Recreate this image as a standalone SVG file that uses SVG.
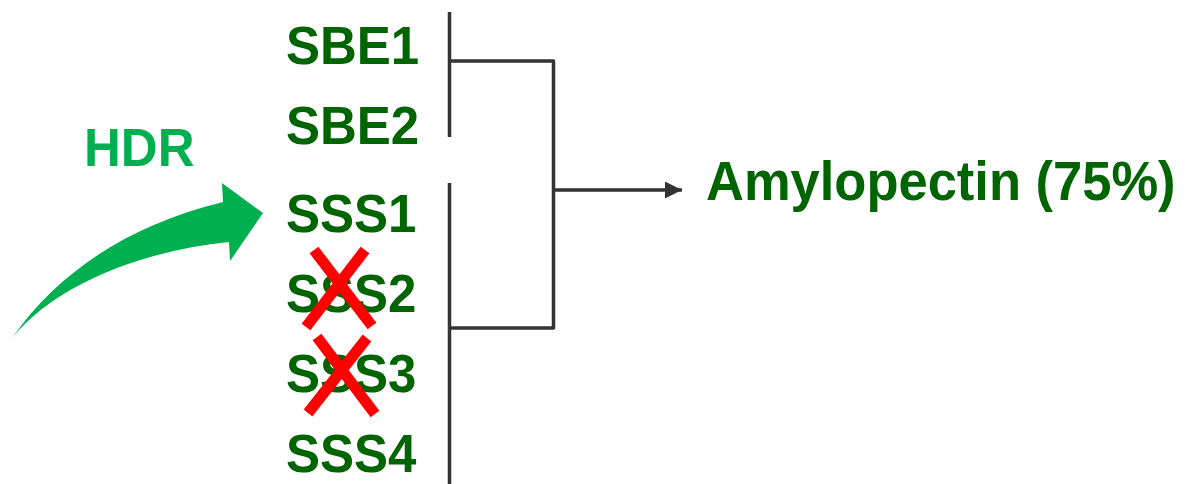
<svg xmlns="http://www.w3.org/2000/svg" width="1186" height="484" viewBox="0 0 1186 484">
<style>
.lbl{font-family:"Liberation Sans",Arial,sans-serif;font-weight:bold;font-size:51px;fill:#006400}
.hdr{font-family:"Liberation Sans",Arial,sans-serif;font-weight:bold;font-size:51px;fill:#00B050}
.ln{fill:none;stroke:#333333;stroke-width:3.5;stroke-linejoin:round}
.x{stroke:#FF0000;stroke-width:11;stroke-linecap:butt}
</style>
<defs>
<marker id="ah" markerUnits="userSpaceOnUse" markerWidth="17" markerHeight="17" refX="17" refY="8.5" orient="auto">
<path d="M0,0 L17,8.5 L0,17 Z" fill="#333333"/>
</marker>
</defs>
<rect width="1186" height="484" fill="#ffffff"/>
<g id="hdr-arrow">
<path d="M12,338 C60,270 130,225 223,202 L222,183 L263,213 L230,261 L229,242 C150,250 60,280 12,338 Z" fill="#00B050"/>
<text class="hdr" transform="translate(84,166) scale(1,1.07)">HDR</text>
</g>
<g id="sbe1"><text class="lbl" transform="translate(286,64) scale(1,1.07)">SBE1</text></g>
<g id="sbe2"><text class="lbl" transform="translate(286,144) scale(1,1.07)">SBE2</text></g>
<g id="sss1"><text class="lbl" transform="translate(286,232) scale(1,1.07)">SSS1</text></g>
<g id="sss2"><text class="lbl" transform="translate(286,312) scale(1,1.07)">SSS2</text>
<line class="x" x1="314" y1="250" x2="372" y2="326"/><line class="x" x1="365" y1="250" x2="306" y2="327"/></g>
<g id="sss3"><text class="lbl" transform="translate(286,392) scale(1,1.07)">SSS3</text>
<line class="x" x1="317" y1="337" x2="375" y2="414"/><line class="x" x1="367" y1="338" x2="308" y2="413"/></g>
<g id="sss4"><text class="lbl" transform="translate(286,472) scale(1,1.07)">SSS4</text></g>
<g id="amylopectin"><text class="lbl" style="font-size:52.5px" transform="translate(706,200) scale(1,1.04)">Amylopectin (75%)</text></g>
<g id="connectors">
<line class="ln" x1="449.5" y1="12" x2="449.5" y2="137"/>
<line class="ln" x1="449.5" y1="183" x2="449.5" y2="484"/>
<path class="ln" d="M449.5,61 H553.5 V328 H449.5"/>
<line class="ln" x1="553.5" y1="190" x2="682" y2="190" marker-end="url(#ah)"/>
</g>
</svg>
